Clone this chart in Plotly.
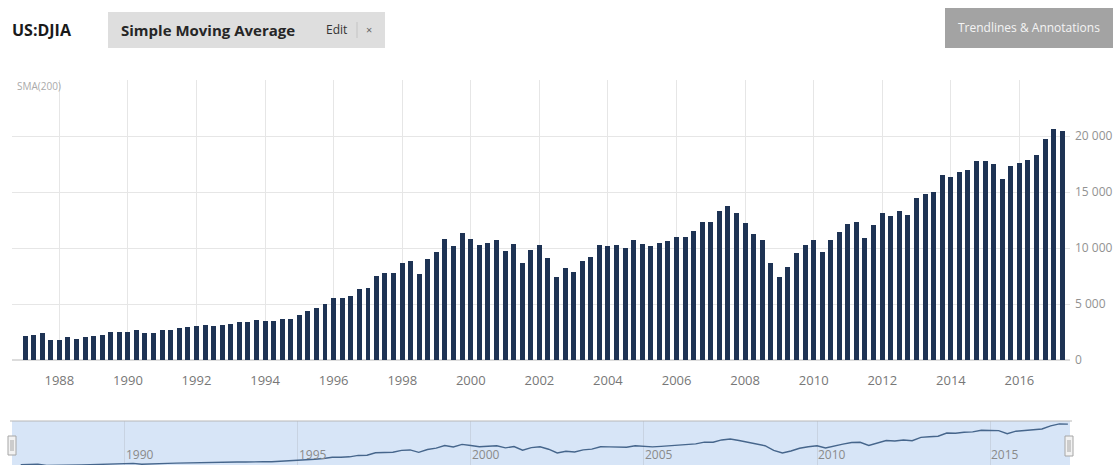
import plotly.graph_objects as go

# ---------------- data ----------------
start_year = 1987
n_quarters = 122
quarter_dates = [f"{start_year + i // 4}-{(i % 4) * 3 + 1:02d}-01" for i in range(n_quarters)]

sma_values = [
    2143, 2250, 2381, 1770, 1770, 2024, 1920, 2024, 2143, 2250, 2530, 2530, 2530, 2720, 2370, 2381,
    2720, 2720, 2870, 2976, 3036, 3155, 3036, 3155, 3214, 3350, 3350, 3571, 3482, 3482, 3705, 3700,
    4018, 4420, 4613, 4970, 5506, 5506, 5700, 6330, 6410, 7520, 7798, 7798, 8631, 8810, 7708, 9018,
    9643, 10804, 10179, 11310, 10804, 10268, 10476, 10685, 9762, 10357, 8690, 9851, 10268, 9137, 7440,
    8185, 7887, 8840, 9167, 10268, 10179, 10268, 10030, 10714, 10357, 10179, 10417, 10625, 11012, 11012,
    11548, 12351, 12292, 13333, 13780, 13095, 12202, 11280, 10714, 8631, 7440, 8333, 9554, 10268, 10714,
    9673, 10714,
    11458, 12143, 12292, 10863, 12083, 13095, 12827, 13333, 12976, 14494, 14792, 15030, 16488, 16369,
    16815, 16964, 17738, 17738, 17530, 16161, 17292, 17619, 17857, 18274, 19702, 20595, 20476,
]

y_tickvals = [0, 5000, 10000, 15000, 20000, 25000]
y_ticktext = ["0", "5 000", "10 000", "15 000", "20 000", ""]

nav_years = ["1990", "1995", "2000", "2005", "2010", "2015"]

# ---------------- layout helpers ----------------
W, H = 1118, 465


def px(x):
    return x / W


def py(y):
    return 1 - y / H


BAR_COLOR = "#1e3354"
GRID = "#e6e6e6"
FONT = "Open Sans"

fig = go.Figure()

fig.add_trace(go.Bar(
    x=quarter_dates, y=sma_values,
    marker=dict(color=BAR_COLOR, line=dict(width=0)),
    width=53 * 24 * 3600 * 1000,
    xaxis="x", yaxis="y", showlegend=False,
))

fig.add_trace(go.Scatter(
    x=quarter_dates, y=sma_values, mode="lines",
    line=dict(color="#46668c", width=1.4),
    xaxis="x2", yaxis="y2", showlegend=False,
))

shapes = [
    # navigator background
    dict(type="rect", xref="x2 domain", yref="y2 domain", x0=0, x1=1, y0=0, y1=1,
         fillcolor="#d7e5f7", line=dict(width=0), layer="below"),
    dict(type="line", xref="paper", yref="paper", x0=px(10), x1=px(1072), y0=py(421), y1=py(421),
         line=dict(color="#b8b8b8", width=1)),
    # navigator handles
    dict(type="rect", xref="paper", yref="paper", x0=px(8), x1=px(16), y0=py(455), y1=py(436),
         fillcolor="#f2f2f2", line=dict(color="#a6a6a6", width=1)),
    dict(type="line", xref="paper", yref="paper", x0=px(11), x1=px(11), y0=py(451), y1=py(440),
         line=dict(color="#a6a6a6", width=1)),
    dict(type="line", xref="paper", yref="paper", x0=px(13), x1=px(13), y0=py(451), y1=py(440),
         line=dict(color="#a6a6a6", width=1)),
    dict(type="rect", xref="paper", yref="paper", x0=px(1065), x1=px(1073), y0=py(456), y1=py(436),
         fillcolor="#f2f2f2", line=dict(color="#a6a6a6", width=1)),
    dict(type="line", xref="paper", yref="paper", x0=px(1068), x1=px(1068), y0=py(452), y1=py(440),
         line=dict(color="#a6a6a6", width=1)),
    dict(type="line", xref="paper", yref="paper", x0=px(1070), x1=px(1070), y0=py(452), y1=py(440),
         line=dict(color="#a6a6a6", width=1)),
    # header boxes
    dict(type="rect", xref="paper", yref="paper", x0=px(108), x1=px(385), y0=py(48), y1=py(12),
         fillcolor="#dedede", line=dict(width=0)),
    dict(type="line", xref="paper", yref="paper", x0=px(357), x1=px(357), y0=py(38), y1=py(22),
         line=dict(color="#c4c4c4", width=1)),
    dict(type="rect", xref="paper", yref="paper", x0=px(945), x1=px(1113), y0=py(48), y1=py(8),
         fillcolor="#a3a3a3", line=dict(width=0)),
]

annotations = [
    dict(text="<b>US:DJIA</b>", x=px(10), y=py(30), xref="paper", yref="paper",
         xanchor="left", yanchor="middle", showarrow=False,
         font=dict(family=FONT, size=16, color="#1a1a1a")),
    dict(text="<b>Simple Moving Average</b>", x=px(119), y=py(30), xref="paper", yref="paper",
         xanchor="left", yanchor="middle", showarrow=False,
         font=dict(family=FONT, size=15, color="#262626")),
    dict(text="Edit", x=px(324), y=py(29), xref="paper", yref="paper",
         xanchor="left", yanchor="middle", showarrow=False,
         font=dict(family=FONT, size=12, color="#333333")),
    dict(text="×", x=px(369), y=py(30), xref="paper", yref="paper",
         xanchor="center", yanchor="middle", showarrow=False,
         font=dict(family=FONT, size=11, color="#666666")),
    dict(text="Trendlines &amp; Annotations", x=px(1029), y=py(28), xref="paper", yref="paper",
         xanchor="center", yanchor="middle", showarrow=False,
         font=dict(family=FONT, size=12, color="#f4f4f4")),
    dict(text="SMA(200)", x=px(15), y=py(86), xref="paper", yref="paper",
         xanchor="left", yanchor="middle", showarrow=False,
         font=dict(family=FONT, size=10, color="#aaaaaa")),
]

for yr in nav_years:
    annotations.append(dict(
        text=yr, x=f"{yr}-01-01", y=py(454), xref="x2", yref="paper",
        xanchor="left", yanchor="middle", xshift=-1, showarrow=False,
        font=dict(family=FONT, size=12, color="#8a8a8a"),
    ))

fig.update_layout(
    width=W, height=H,
    margin=dict(l=0, r=0, t=0, b=0),
    paper_bgcolor="white", plot_bgcolor="rgba(0,0,0,0)",
    separators=". ",
    bargap=0,
    font=dict(family=FONT),
    xaxis=dict(
        domain=[px(12), px(1070)], anchor="y", type="date",
        range=["1986-08-15", "2017-06-23"],
        tick0="1988-01-01", dtick="M24", tickformat="%Y",
        showgrid=True, gridcolor=GRID, gridwidth=1,
        showline=False, zeroline=False, ticks="",
        tickfont=dict(family=FONT, size=13, color="#777777"),
        ticklabelstandoff=11, automargin=False, fixedrange=True,
    ),
    yaxis=dict(
        domain=[py(360), py(80)], anchor="x", side="right",
        range=[0, 25000], tickvals=y_tickvals, ticktext=y_ticktext,
        showgrid=True, gridcolor=GRID, zeroline=True, zerolinecolor="#dcdcdc",
        showline=False, ticks="",
        tickfont=dict(family=FONT, size=12, color="#929292"),
        ticklabelstandoff=4, automargin=False, fixedrange=True,
    ),
    xaxis2=dict(
        domain=[px(12), px(1070)], anchor="y2", type="date",
        range=["1986-10-01", "2017-04-23"],
        tick0="1990-01-01", dtick="M60",
        showgrid=True, gridcolor="#c8d3e2", showline=False, zeroline=False, ticks="",
        showticklabels=False, automargin=False, fixedrange=True,
    ),
    yaxis2=dict(
        domain=[0, py(421)], anchor="x2", range=[2000, 21900],
        showgrid=False, zeroline=False, showticklabels=False, showline=False,
        automargin=False, fixedrange=True,
    ),
    shapes=shapes,
    annotations=annotations,
)

fig.write_html("out.html", config={"displayModeBar": False})
